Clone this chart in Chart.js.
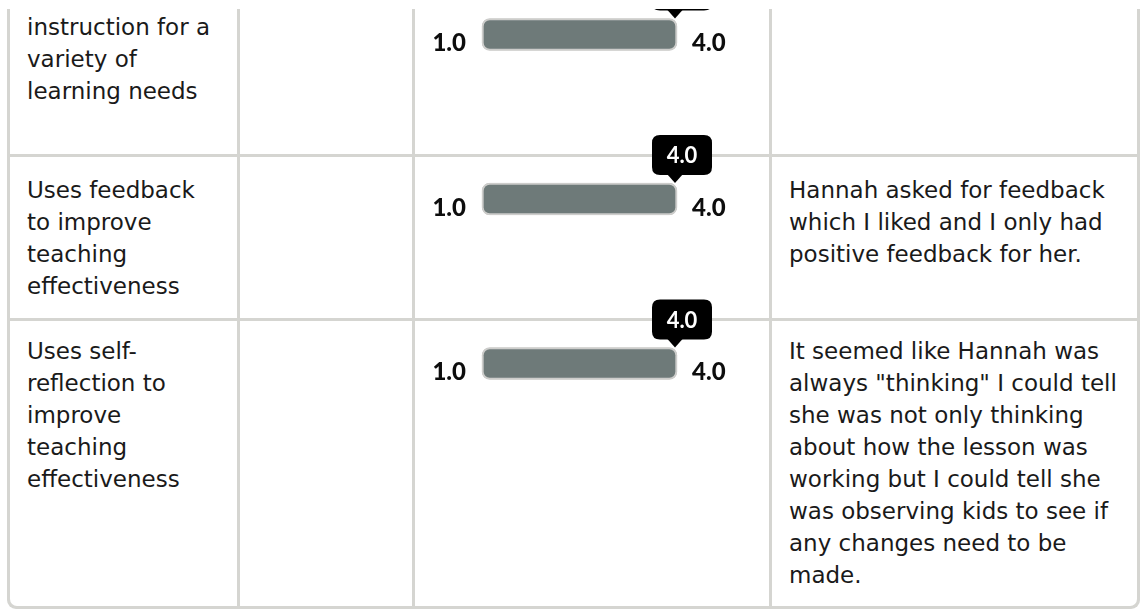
<!DOCTYPE html>
<html lang="en">
<head>
  <meta charset="UTF-8">
  <title>Observation Ratings</title>
  <script src="https://cdn.jsdelivr.net/npm/chart.js@4.4.1/dist/chart.umd.min.js"></script>
  <style>
    html, body { margin: 0; padding: 0; background: #fff; }
    body { width: 1140px; height: 610px; overflow: hidden; position: relative; font-family: "DejaVu Sans", sans-serif; }
    #grid {
      position: absolute; left: 7px; top: -11px; width: 1133px; height: 620px;
      box-sizing: border-box; padding: 3px; background: #d5d5d1;
      border-radius: 0 0 9px 9px;
      display: grid; gap: 3px;
      grid-template-columns: 227px 172px 354px 365px;
      grid-template-rows: 162px 161px 285px;
    }
    .cell { background: #fff; padding: 16px 17px 0 17px; font-size: 23px; line-height: 32px; color: #1a1a1a; }
    .r0 { padding-top: 19px; }
    .r1 { padding-top: 17px; }
    .r2 { padding-top: 14px; }
    .r2.c0 { border-bottom-left-radius: 7px; }
    .r2.c3 { border-bottom-right-radius: 7px; }
    #sliders { position: absolute; left: 412px; top: 0; z-index: 2; }
    #mask { position: absolute; left: 0; top: 0; width: 1140px; height: 9px; background: #fff; z-index: 5; }
  </style>
</head>
<body>

<div id="grid"></div>
<canvas id="sliders" width="360" height="400"></canvas>
<div id="mask"></div>

<script>
  // rubric rows (first one is cut off at the top of the page)
  const criteria = [
    'instruction for a variety of learning needs',
    'Uses feedback to improve teaching effectiveness',
    'Uses self-reflection to improve teaching effectiveness'
  ];
  const ratings = [4.0, 4.0, 4.0];
  const scaleMin = 1.0;
  const scaleMax = 4.0;
  const comments = [
    '',
    'Hannah asked for feedback which I liked and I only had positive feedback for her.',
    'It seemed like Hannah was always "thinking" I could tell she was not only thinking about how the lesson was working but I could tell she was observing kids to see if any changes need to be made.'
  ];

  // build the table cells
  const grid = document.getElementById('grid');
  criteria.forEach((crit, i) => {
    [crit, '', '', comments[i]].forEach((txt, c) => {
      const d = document.createElement('div');
      d.className = 'cell r' + i + ' c' + c;
      d.textContent = txt;
      grid.appendChild(d);
    });
  });

  function roundBox(ctx, x, y, w, h, r) {
    ctx.beginPath();
    ctx.moveTo(x + r, y);
    ctx.lineTo(x + w - r, y);
    ctx.quadraticCurveTo(x + w, y, x + w, y + r);
    ctx.lineTo(x + w, y + h - r);
    ctx.quadraticCurveTo(x + w, y + h, x + w - r, y + h);
    ctx.lineTo(x + r, y + h);
    ctx.quadraticCurveTo(x, y + h, x, y + h - r);
    ctx.lineTo(x, y + r);
    ctx.quadraticCurveTo(x, y, x + r, y);
    ctx.closePath();
  }

  // end labels and the value callout for each slider
  const sliderLabels = {
    id: 'sliderLabels',
    afterDatasetsDraw(chart) {
      const ctx = chart.ctx;
      const xs = chart.scales.x;
      const meta = chart.getDatasetMeta(0);
      ctx.save();
      meta.data.forEach((bar, i) => {
        const top = bar.y - bar.height / 2;
        ctx.fillStyle = '#0d0d0d';
        ctx.font = '900 24px Lato';
        ctx.textBaseline = 'alphabetic';
        ctx.textAlign = 'right';
        ctx.fillText(scaleMin.toFixed(1), xs.getPixelForValue(scaleMin) - 16, bar.y + 16.5);
        ctx.textAlign = 'left';
        ctx.fillText(scaleMax.toFixed(1), xs.getPixelForValue(scaleMax) + 15, bar.y + 16.5);

        const xv = xs.getPixelForValue(ratings[i]);
        ctx.fillStyle = '#000';
        roundBox(ctx, xv - 25, top - 48, 60, 40, 8);
        ctx.fill();
        ctx.beginPath();
        ctx.moveTo(xv - 10, top - 9);
        ctx.lineTo(xv + 6, top - 9);
        ctx.lineTo(xv - 2, top);
        ctx.closePath();
        ctx.fill();
        ctx.fillStyle = '#fff';
        ctx.font = 'bold 22px Lato';
        ctx.textAlign = 'center';
        ctx.fillText(ratings[i].toFixed(1), xv + 5, top - 20);
      });
      ctx.restore();
    }
  };

  const ctx = document.getElementById('sliders').getContext('2d');
  new Chart(ctx, {
    type: 'bar',
    data: {
      labels: criteria,
      datasets: [{
        label: 'Rating',
        data: ratings.map(v => [scaleMin, v]),
        backgroundColor: '#6e7a79',
        borderColor: '#cdcdcb',
        borderWidth: 2,
        borderRadius: 8,
        borderSkipped: false,
        barThickness: 32,
        grouped: false,
        clip: false
      }, {
        label: 'Scale',
        data: criteria.map(() => [scaleMin, scaleMax]),
        backgroundColor: '#ffffff',
        borderColor: '#cdcdcb',
        borderWidth: 2,
        borderRadius: 8,
        borderSkipped: false,
        barThickness: 32,
        grouped: false,
        clip: false
      }]
    },
    options: {
      indexAxis: 'y',
      responsive: false,
      animation: false,
      events: [],
      layout: { padding: { left: 70, right: 95, top: 34.5, bottom: 36.5 } },
      scales: {
        x: { type: 'linear', min: scaleMin, max: scaleMax, display: false },
        y: { display: false, offset: false }
      },
      plugins: {
        legend: { display: false },
        tooltip: { enabled: false }
      }
    },
    plugins: [sliderLabels]
  });
</script>
</body>
</html>
